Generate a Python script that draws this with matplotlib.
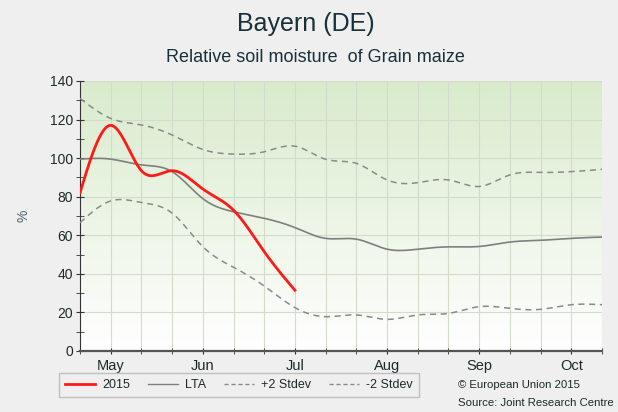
import numpy as np
import matplotlib
matplotlib.use('Agg')
import matplotlib.pyplot as plt
from matplotlib.lines import Line2D

plt.rcParams['font.family'] = ['Liberation Sans', 'DejaVu Sans']

# ---- data (dekads starting end of April) ----
months = ['May', 'Jun', 'Jul', 'Aug', 'Sep', 'Oct']
month_pos = [1, 4, 7, 10, 13, 16]
y2015 = [82, 117, 93.5, 93.5, 84, 73, 51.5, 31.5]
lta = [99.5, 99.5, 96.5, 93, 79, 72.2, 68.8, 64, 58.4, 58, 52.8, 52.8,
       54, 54.2, 56.5, 57.4, 58.4, 59.1]
plus2 = [131, 120.6, 117.2, 112, 104.5, 102.1, 103.3, 106.2, 99.4, 97.3,
         88.7, 87.3, 88.7, 85.3, 91.3, 92.6, 93, 94.2]
minus2 = [66.5, 77.8, 77, 71.5, 54.1, 43.4, 33.7, 22.5, 17.8, 18.7,
          16.4, 18.7, 19.5, 23, 22.1, 21.6, 24, 24]


def natural_spline(y, n=25):
    y = np.asarray(y, float)
    x = np.arange(len(y), dtype=float)
    N = len(y)
    if N < 3:
        return x, y
    A = np.zeros((N, N))
    b = np.zeros(N)
    A[0, 0] = 1
    A[-1, -1] = 1
    for i in range(1, N - 1):
        A[i, i - 1] = 1
        A[i, i] = 4
        A[i, i + 1] = 1
        b[i] = 6 * (y[i + 1] - 2 * y[i] + y[i - 1])
    M = np.linalg.solve(A, b)
    xs, ys = [], []
    for i in range(N - 1):
        t = np.linspace(0, 1, n, endpoint=False)
        a = y[i]
        c1 = (y[i + 1] - y[i]) - (2 * M[i] + M[i + 1]) / 6
        c2 = M[i] / 2
        c3 = (M[i + 1] - M[i]) / 6
        xs.append(i + t)
        ys.append(a + c1 * t + c2 * t ** 2 + c3 * t ** 3)
    xs.append([x[-1]])
    ys.append([y[-1]])
    return np.concatenate(xs), np.concatenate(ys)


fig = plt.figure(figsize=(6.18, 4.12), dpi=100, facecolor='#efefef')
ax = fig.add_axes([80 / 618, 1 - 351 / 412, 522 / 618, 270 / 412])
ax.set_facecolor('white')

# gradient background
top = np.array([0.85, 0.92, 0.80])
bot = np.array([1.0, 1.0, 1.0])
t = np.linspace(0, 1, 256)[:, None]
grad = (top * (1 - t) + bot * t)[:, None, :]
ax.imshow(grad, extent=[0, 17, 0, 140], aspect='auto', zorder=0,
          interpolation='bilinear')

ax.set_xlim(0, 17)
ax.set_ylim(0, 140)

# grid
for xv in range(1, 18):
    ax.axvline(xv, color='#d3dccb', lw=0.8, zorder=1)
for yv in range(20, 141, 20):
    ax.axhline(yv, color='#d3dccb', lw=0.8, zorder=1)

dash_col = '#8a8a8a'
xs, ys = natural_spline(plus2)
ax.plot(xs, ys, color=dash_col, lw=1.1, ls=(0, (4, 3)), zorder=3)
xs, ys = natural_spline(minus2)
ax.plot(xs, ys, color=dash_col, lw=1.1, ls=(0, (4, 3)), zorder=3)
xs, ys = natural_spline(lta)
ax.plot(xs, ys, color='#7f7f7f', lw=1.2, zorder=3)
xs, ys = natural_spline(y2015)
ax.plot(xs, ys, color='#ff1a1a', lw=2.0, zorder=4)

# axes styling
for s in ['top', 'right']:
    ax.spines[s].set_visible(False)
ax.spines['left'].set_color('#333333')
ax.spines['bottom'].set_color('#555555')
ax.spines['bottom'].set_linewidth(1.6)
ax.set_yticks(range(0, 141, 20))
ax.set_yticks(range(0, 141, 10), minor=True)
ax.set_xticks(range(0, 18), minor=True)
ax.set_xticks(month_pos)
ax.set_xticklabels(months)
ax.tick_params(axis='y', which='both', direction='inout', length=6,
               color='#333333', labelsize=10, labelcolor='#1d2a2a', pad=2)
ax.tick_params(axis='x', which='both', direction='inout', length=5,
               color='#333333', labelsize=10.5, labelcolor='#1d2a2a', pad=3)
ax.set_ylabel('%', fontsize=10, color='#4a6070', labelpad=14)

fig.text(0.495, 1 - 24 / 412, 'Bayern (DE)', ha='center', va='center',
         fontsize=18, color='#17303a')
fig.text(0.51, 1 - 58 / 412, 'Relative soil moisture  of Grain maize',
         ha='center', va='center', fontsize=13, color='#17303a')

handles = [Line2D([], [], color='#ff1a1a', lw=2.0),
           Line2D([], [], color='#7f7f7f', lw=1.0),
           Line2D([], [], color=dash_col, lw=1.0, ls=(0, (3, 2))),
           Line2D([], [], color=dash_col, lw=1.0, ls=(0, (3, 2)))]
leg = fig.legend(handles, ['2015', 'LTA', '+2 Stdev', '-2 Stdev'],
                 loc='center', bbox_to_anchor=(239 / 618, 1 - 385 / 412),
                 ncol=4, fontsize=9, frameon=True, fancybox=False,
                 edgecolor='#b5b5b5', facecolor='#efefef', handlelength=2.4,
                 columnspacing=1.4, handletextpad=0.6, borderpad=0.5)
leg.get_frame().set_linewidth(1.0)
for txt in leg.get_texts():
    txt.set_color('#1d2a2a')

fig.text(458 / 618, 1 - 385 / 412, '\u00a9 European Union 2015',
         fontsize=8.2, color='#1d2a2a', va='center')
fig.text(458 / 618, 1 - 403 / 412, 'Source: Joint Research Centre',
         fontsize=8.2, color='#1d2a2a', va='center')

fig.savefig('out.png', dpi=100, facecolor=fig.get_facecolor())
